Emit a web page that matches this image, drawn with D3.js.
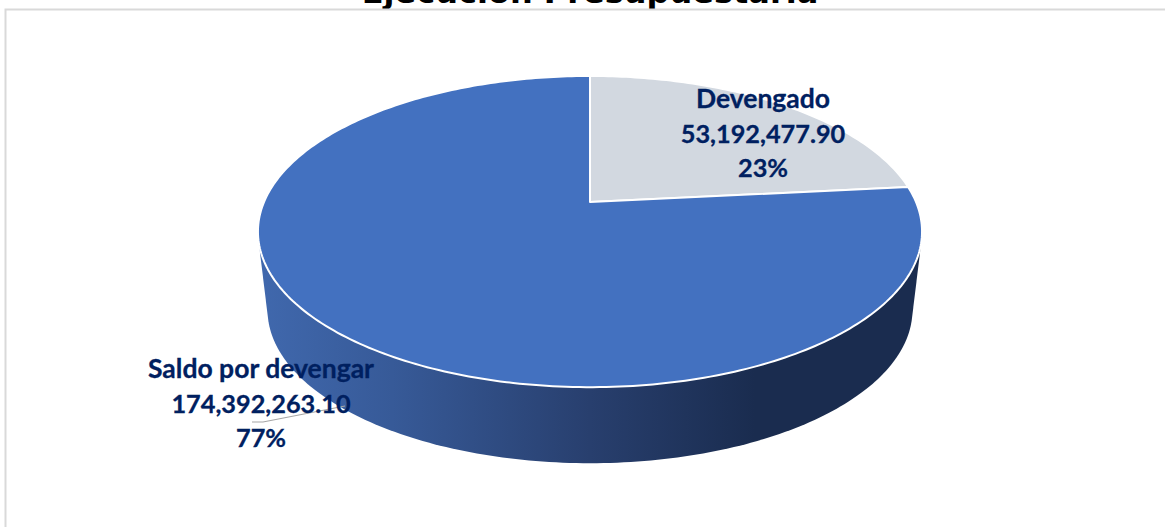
<!DOCTYPE html>
<html>
<head>
<meta charset="utf-8">
<script src="https://cdn.jsdelivr.net/npm/d3@7"></script>
<style>
    html, body { margin: 0; padding: 0; background: #fff; overflow: hidden; }
    svg { display: block; }
</style>
</head>
<body>
<div id="chart"></div>
<script>
const categories = ["Devengado", "Saldo por devengar"];
const amounts = [53192477.90, 174392263.10];
const amountLabels = ["53,192,477.90", "174,392,263.10"];
const percentLabels = ["23%", "77%"];
const sliceColors = ["#d2d8e0", "#4371c0"];

const width = 1165, height = 527;

// perspective of the pie top, fitted to the picture
const cx = 590, cy = 202, rx = 326, ry = 150, tilt = 0.19;
const ellipseCy = 231.5;
// the bottom rim is further from the eye so a bit smaller
const baseCy = 310, baseScaleX = 0.971, baseScaleY = 0.984;

function project(a) {
    let d = 1 + tilt * Math.cos(a);
    return [cx + rx * Math.sin(a) / d, cy - ry * Math.cos(a) / d];
}

function projectBase(a) {
    let p = project(a);
    return [cx + (p[0] - cx) * baseScaleX, baseCy + (p[1] - ellipseCy) * baseScaleY];
}

const svg = d3.select("#chart").append("svg")
    .attr("width", width)
    .attr("height", height);

// title sits behind the chart area so it is cut off by it
svg.append("text")
    .attr("x", 590)
    .attr("y", 3)
    .attr("text-anchor", "middle")
    .style("font-family", "'DejaVu Sans'")
    .style("font-weight", "bold")
    .style("font-size", "32px")
    .style("fill", "#000")
    .text("Ejecución Presupuestaria");

svg.append("rect")
    .attr("x", 5.5)
    .attr("y", 9.5)
    .attr("width", width + 20)
    .attr("height", height + 20)
    .style("fill", "#fff")
    .style("stroke", "#d9d9d9")
    .style("stroke-width", 2);

const grad = svg.append("defs").append("linearGradient")
    .attr("id", "wall")
    .attr("gradientUnits", "userSpaceOnUse")
    .attr("x1", 260).attr("x2", 920)
    .attr("y1", 0).attr("y2", 0);

grad.selectAll("stop")
    .data([[0, "#4068ad"], [0.2, "#375a98"], [0.5, "#283f6e"], [0.75, "#1a2c4f"], [1, "#1a2c4f"]])
    .enter().append("stop")
    .attr("offset", d => d[0])
    .attr("stop-color", d => d[1]);

// wall: outline around both rims
const circleAngles = d3.range(0, 360, 1).map(d => d * Math.PI / 180);
const hull = d3.polygonHull(circleAngles.map(project).concat(circleAngles.map(projectBase)));

svg.append("path")
    .attr("d", d3.line()(hull) + "Z")
    .style("fill", "url(#wall)");

// top face
const pie = d3.pie().sort(null)(amounts);

svg.selectAll(".slice")
    .data(pie)
    .enter().append("path")
    .attr("class", "slice")
    .attr("d", d => {
        let n = Math.ceil((d.endAngle - d.startAngle) * 60);
        let rim = d3.range(n + 1).map(i => project(d.startAngle + (d.endAngle - d.startAngle) * i / n));
        return d3.line()([[cx, cy]].concat(rim)) + "Z";
    })
    .style("fill", (d, i) => sliceColors[i])
    .style("stroke", "#fff")
    .style("stroke-width", 2)
    .style("stroke-linejoin", "round");

// leader line of the lower label
svg.append("path")
    .attr("d", d3.line()([[252, 422], [263, 422], [345, 406]]))
    .style("fill", "none")
    .style("stroke", "#a6a6a6")
    .style("stroke-width", 1.2);

const labelPos = [[763, 98], [261, 368]];
const lineStep = 34.5;
// names run a little wider than the numbers in the original font
const lineSizes = [26.5, 25.3, 25.3];

labelPos.forEach((pos, i) => {
    [categories[i], amountLabels[i], percentLabels[i]].forEach((line, j) => {
        svg.append("text")
            .attr("class", "label")
            .attr("x", pos[0])
            .attr("y", pos[1] + j * lineStep)
            .attr("text-anchor", "middle")
            .attr("dominant-baseline", "central")
            .style("font-family", "Lato")
            .style("font-weight", "bold")
            .style("font-size", lineSizes[j] + "px")
            .style("fill", "#002060")
            .style("stroke", "#002060")
            .style("stroke-width", 0.3)
            .text(line);
    });
});
</script>
</body>
</html>
